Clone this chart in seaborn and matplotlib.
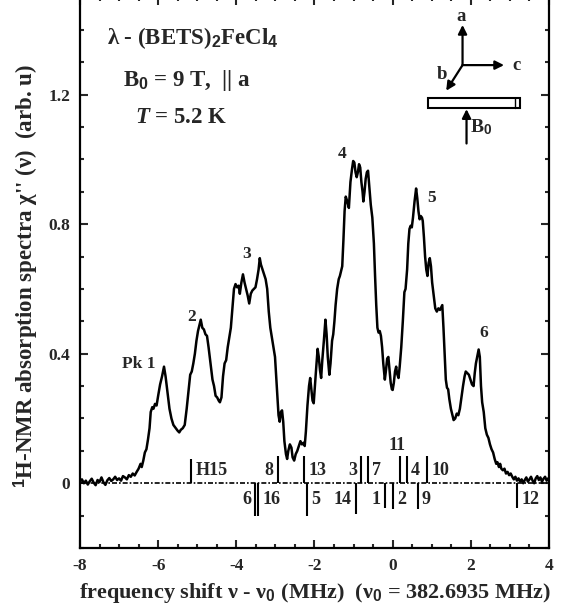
import matplotlib
matplotlib.use("Agg")
import matplotlib.pyplot as plt
from matplotlib.ticker import MultipleLocator, FuncFormatter
from matplotlib.patches import Rectangle
import pandas as pd
import seaborn as sns

# 1H-NMR absorption spectrum, frequency shift (MHz) vs chi''(nu) (arb. u)
freq_shift = [
    -8.00, -7.95, -7.90, -7.85, -7.80, -7.75, -7.70, -7.65, -7.60, -7.55,
    -7.50, -7.45, -7.40, -7.35, -7.30, -7.25, -7.20, -7.15, -7.10, -7.05,
    -7.00, -6.95, -6.90, -6.85, -6.80, -6.75, -6.70, -6.65, -6.60, -6.55,
    -6.50, -6.45, -6.42, -6.38, -6.34, -6.30, -6.26, -6.22, -6.19, -6.15,
    -6.12, -6.08, -6.04, -6.00, -5.95, -5.90, -5.85, -5.81, -5.76, -5.71,
    -5.66, -5.61, -5.55, -5.50, -5.46, -5.42, -5.37, -5.32, -5.27, -5.22,
    -5.18, -5.14, -5.10, -5.06, -5.02, -4.98, -4.94, -4.91, -4.87, -4.83,
    -4.79, -4.75, -4.71, -4.66, -4.61, -4.57, -4.53, -4.49, -4.45, -4.42,
    -4.38, -4.34, -4.30, -4.26, -4.22, -4.18, -4.14, -4.10, -4.06, -4.02,
    -3.98, -3.94, -3.91, -3.87, -3.83, -3.79, -3.75, -3.71, -3.67, -3.63,
    -3.59, -3.55, -3.51, -3.47, -3.43, -3.40, -3.37, -3.33, -3.29, -3.25,
    -3.21, -3.17, -3.13, -3.09, -3.05, -3.01, -2.98, -2.95, -2.92, -2.89,
    -2.86, -2.83, -2.80, -2.77, -2.73, -2.70, -2.67, -2.63, -2.59, -2.56,
    -2.52, -2.48, -2.44, -2.40, -2.36, -2.32, -2.28, -2.25, -2.22, -2.18,
    -2.14, -2.11, -2.08, -2.05, -2.02, -1.99, -1.96, -1.92, -1.89, -1.86,
    -1.83, -1.80, -1.76, -1.72, -1.69, -1.66, -1.62, -1.59, -1.55, -1.52,
    -1.49, -1.46, -1.42, -1.38, -1.35, -1.32, -1.29, -1.26, -1.23, -1.20,
    -1.16, -1.12, -1.08, -1.04, -1.01, -0.98, -0.95, -0.92, -0.89, -0.86,
    -0.83, -0.80, -0.77, -0.75, -0.72, -0.69, -0.66, -0.63, -0.60, -0.56,
    -0.52, -0.48, -0.45, -0.42, -0.39, -0.36, -0.33, -0.30, -0.27, -0.24,
    -0.20, -0.17, -0.14, -0.11, -0.08, -0.05, -0.02, 0.00, 0.03, 0.06,
    0.09, 0.11, 0.15, 0.18, 0.22, 0.26, 0.30, 0.33, 0.37, 0.40,
    0.43, 0.46, 0.49, 0.52, 0.56, 0.60, 0.63, 0.66, 0.69, 0.72,
    0.75, 0.77, 0.80, 0.83, 0.86, 0.89, 0.92, 0.95, 0.98, 1.01,
    1.05, 1.09, 1.13, 1.17, 1.21, 1.25, 1.27, 1.30, 1.33, 1.36,
    1.39, 1.42, 1.45, 1.49, 1.53, 1.56, 1.60, 1.64, 1.68, 1.72,
    1.76, 1.80, 1.84, 1.87, 1.91, 1.95, 1.99, 2.03, 2.07, 2.10,
    2.13, 2.17, 2.20, 2.23, 2.26, 2.29, 2.33, 2.37, 2.41, 2.45,
    2.49, 2.53, 2.57, 2.61, 2.65, 2.68, 2.72, 2.75, 2.78, 2.82,
    2.86, 2.90, 2.94, 2.98, 3.02, 3.06, 3.10, 3.14, 3.18, 3.22,
    3.26, 3.30, 3.34, 3.38, 3.42, 3.46, 3.50, 3.54, 3.58, 3.62,
    3.66, 3.70, 3.74, 3.78, 3.82, 3.86, 3.90, 3.94, 3.98,
]
absorption = [
    0.005, 0.012, 0.000, 0.008, -0.004, 0.006, 0.014, 0.002, -0.006, 0.010,
    0.004, 0.018, 0.003, -0.005, 0.009, 0.016, 0.007, 0.012, 0.020, 0.010,
    0.015, 0.008, 0.022, 0.018, 0.012, 0.025, 0.020, 0.030, 0.024, 0.035,
    0.045, 0.060, 0.050, 0.070, 0.095, 0.105, 0.135, 0.170, 0.220, 0.235,
    0.230, 0.245, 0.240, 0.270, 0.305, 0.330, 0.360, 0.330, 0.280, 0.230,
    0.200, 0.180, 0.170, 0.162, 0.157, 0.165, 0.170, 0.180, 0.230, 0.290,
    0.335, 0.345, 0.370, 0.400, 0.440, 0.470, 0.490, 0.505, 0.480, 0.475,
    0.460, 0.455, 0.420, 0.370, 0.320, 0.300, 0.270, 0.265, 0.255, 0.250,
    0.265, 0.330, 0.370, 0.380, 0.420, 0.450, 0.480, 0.540, 0.600, 0.615,
    0.605, 0.610, 0.585, 0.620, 0.645, 0.620, 0.600, 0.580, 0.555, 0.585,
    0.595, 0.600, 0.605, 0.630, 0.660, 0.695, 0.675, 0.660, 0.645, 0.630,
    0.600, 0.530, 0.480, 0.450, 0.420, 0.390, 0.330, 0.270, 0.210, 0.190,
    0.220, 0.225, 0.190, 0.130, 0.090, 0.075, 0.100, 0.120, 0.110, 0.080,
    0.070, 0.090, 0.100, 0.115, 0.130, 0.120, 0.125, 0.115, 0.160, 0.240,
    0.300, 0.325, 0.290, 0.255, 0.247, 0.300, 0.350, 0.415, 0.390, 0.350,
    0.325, 0.380, 0.440, 0.505, 0.460, 0.390, 0.335, 0.370, 0.440, 0.460,
    0.500, 0.550, 0.600, 0.630, 0.640, 0.655, 0.670, 0.750, 0.840, 0.885,
    0.870, 0.850, 0.930, 0.970, 0.995, 0.990, 0.960, 0.945, 0.960, 0.985,
    0.975, 0.930, 0.900, 0.870, 0.900, 0.940, 0.960, 0.965, 0.920, 0.860,
    0.820, 0.740, 0.640, 0.550, 0.480, 0.465, 0.470, 0.455, 0.420, 0.370,
    0.320, 0.350, 0.385, 0.390, 0.350, 0.310, 0.290, 0.288, 0.310, 0.345,
    0.360, 0.340, 0.325, 0.360, 0.420, 0.500, 0.590, 0.600, 0.660, 0.740,
    0.785, 0.795, 0.790, 0.820, 0.870, 0.910, 0.880, 0.840, 0.815, 0.825,
    0.820, 0.810, 0.760, 0.700, 0.660, 0.640, 0.680, 0.695, 0.670, 0.620,
    0.580, 0.540, 0.530, 0.540, 0.535, 0.545, 0.550, 0.480, 0.400, 0.320,
    0.295, 0.290, 0.260, 0.230, 0.210, 0.195, 0.200, 0.215, 0.210, 0.230,
    0.265, 0.300, 0.330, 0.345, 0.340, 0.335, 0.320, 0.305, 0.300, 0.340,
    0.370, 0.395, 0.413, 0.390, 0.300, 0.250, 0.220, 0.170, 0.150, 0.140,
    0.120, 0.105, 0.095, 0.075, 0.060, 0.065, 0.050, 0.060, 0.045, 0.040,
    0.045, 0.030, 0.035, 0.025, 0.030, 0.020, 0.012, 0.020, 0.008, 0.015,
    0.005, 0.012, 0.000, 0.010, 0.018, 0.005, 0.012, 0.020, 0.008, 0.000,
    0.015, 0.022, 0.010, 0.018, 0.005, 0.014, 0.020, 0.008, 0.015,
]

# Calculated proton line positions (MHz): upper row above the baseline, lower row below
upper_labels = ["H15", "8", "13", "3", "7", "11", "4", "10"]
upper_pos = [-5.16, -2.94, -2.27, -0.81, -0.63, 0.18, 0.36, 0.89]
lower_labels = ["6", "16", "5", "14", "1", "2", "9", "12"]
lower_pos = [-3.52, -3.44, -2.20, -0.94, -0.20, 0.00, 0.64, 3.19]

# Peak names
peak_names = ["Pk 1", "2", "3", "4", "5", "6"]

x_ticks = [-8, -6, -4, -2, 0, 2, 4]
y_ticks = [0, 0.4, 0.8, 1.2]

sns.set_theme(style="ticks")
plt.rcParams["font.family"] = ["Liberation Serif", "DejaVu Serif"]
plt.rcParams["font.weight"] = "bold"
plt.rcParams["mathtext.fontset"] = "custom"
plt.rcParams["mathtext.rm"] = "Liberation Serif:bold"
plt.rcParams["mathtext.bf"] = "Liberation Serif:bold"
plt.rcParams["mathtext.it"] = "Liberation Serif:bold:italic"
plt.rcParams["mathtext.sf"] = "Liberation Sans:bold"
plt.rcParams["axes.unicode_minus"] = False

fig = plt.figure(figsize=(5.64, 6.15), dpi=100)
ax = fig.add_axes([0.1418, 0.1089, 0.8316, 0.8953])

df = pd.DataFrame({"shift": freq_shift, "chi": absorption})

# dash-dot zero line
ax.axhline(0, color="black", lw=1.2, linestyle=(0, (3, 1.2, 1, 1.2)), zorder=1)

sns.lineplot(data=df, x="shift", y="chi", ax=ax, color="black", lw=1.8,
             sort=False, estimator=None, zorder=3)

# stick markers
up_len = [0.076, 0.083, 0.083, 0.083, 0.083, 0.083, 0.083, 0.083]
lo_len = [-0.10, -0.10, -0.10, -0.095, -0.076, -0.078, -0.08, -0.076]
ax.vlines(upper_pos, 0, up_len, color="black", lw=1.5, zorder=2)
ax.vlines(lower_pos, lo_len, 0, color="black", lw=1.5, zorder=2)

up_side = ["right", "left", "right", "left", "right", "above", "right", "right"]
lo_side = ["left", "right", "right", "left", "left", "right", "right", "right"]
fs_stick = 13


def stick_text(label, x, y, side):
    if side == "right":
        ax.annotate(label, (x, y), xytext=(3, 0), textcoords="offset points",
                    ha="left", va="center", fontsize=fs_stick, fontweight="bold")
    elif side == "left":
        ax.annotate(label, (x, y), xytext=(-3, 0), textcoords="offset points",
                    ha="right", va="center", fontsize=fs_stick, fontweight="bold")
    else:
        ax.text(x - 0.08, 0.118, label, ha="center", va="center",
                fontsize=fs_stick, fontweight="bold")


for lab, x, side in zip(upper_labels, upper_pos, up_side):
    stick_text(lab, x, 0.038, side)
for lab, x, side in zip(lower_labels, lower_pos, lo_side):
    stick_text(lab, x, -0.05, side)

# peak names
peak_xy = [(-6.50, 0.368), (-5.14, 0.514), (-3.74, 0.707),
           (-1.29, 1.017), (0.99, 0.880), (2.33, 0.465)]
for name, (px, py) in zip(peak_names, peak_xy):
    ax.text(px, py, name, ha="center", va="center", fontsize=12.5, fontweight="bold")

# sample description
ax.text(-5.12, 1.375, r"λ - (BETS)$_\mathsf{2}$FeCl$_\mathsf{4}$", ha="center",
        va="center", fontsize=16.5, fontweight="bold")
ax.text(-5.25, 1.245, r"B$_\mathsf{0}$ = 9 T,  || a", ha="center", va="center",
        fontsize=16.5, fontweight="bold")
ax.text(-5.40, 1.130, r"$T$ = 5.2 K", ha="center", va="center",
        fontsize=16.5, fontweight="bold")

# crystal axes sketch
arrow_kw = dict(arrowstyle="-|>", color="black", lw=1.6, mutation_scale=13,
                shrinkA=0, shrinkB=0)
origin = (1.788, 1.291)
ax.annotate("", xy=(1.788, 1.415), xytext=origin, arrowprops=arrow_kw)
ax.annotate("", xy=(2.85, 1.291), xytext=origin, arrowprops=arrow_kw)
ax.annotate("", xy=(1.37, 1.212), xytext=origin, arrowprops=arrow_kw)
ax.text(1.76, 1.440, "a", ha="center", va="center", fontsize=13.5, fontweight="bold")
ax.text(3.17, 1.289, "c", ha="center", va="center", fontsize=13.5, fontweight="bold")
ax.text(1.27, 1.262, "b", ha="center", va="center", fontsize=13.5, fontweight="bold")
ax.add_patch(Rectangle((0.893, 1.160), 2.36, 0.030, facecolor="white",
                       edgecolor="black", lw=1.5, zorder=4))
ax.plot([3.125, 3.125], [1.160, 1.190], color="black", lw=1.0, zorder=5)
ax.annotate("", xy=(1.89, 1.155), xytext=(1.89, 1.049), arrowprops=arrow_kw)
ax.text(2.25, 1.098, r"B$_\mathsf{0}$", ha="center", va="center", fontsize=14,
        fontweight="bold")

ax.set_xlim(-8, 4)
ax.set_ylim(-0.2, 1.5)
ax.set_xticks(x_ticks)
ax.set_yticks(y_ticks)
ax.xaxis.set_minor_locator(MultipleLocator(0.5))
ax.yaxis.set_minor_locator(MultipleLocator(0.1))
ax.xaxis.set_major_formatter(FuncFormatter(lambda v, p: "%d" % v))
ax.yaxis.set_major_formatter(FuncFormatter(lambda v, p: "0" if abs(v) < 1e-9 else "%.1f" % v))
ax.tick_params(which="both", direction="in", top=True, right=True,
               labelsize=12.5, width=1.5, pad=7)
ax.tick_params(which="major", length=6)
ax.tick_params(which="minor", length=3)
for lab in ax.get_xticklabels() + ax.get_yticklabels():
    lab.set_fontweight("bold")
for s in ax.spines.values():
    s.set_linewidth(1.6)
    s.set_color("black")
ax.grid(False)

ax.set_xlabel(r"frequency shift ν - ν$_\mathsf{0}$ (MHz)  (ν$_\mathsf{0}$ = 382.6935 MHz)",
              fontsize=16, fontweight="bold", labelpad=5)
ax.set_ylabel(r"$^\mathsf{1}$H-NMR absorption spectra χ'' (ν)  (arb. u)",
              fontsize=16.5, fontweight="bold")
ax.yaxis.set_label_coords(-0.086, 0.494)

fig.savefig("out.png", dpi=100)
